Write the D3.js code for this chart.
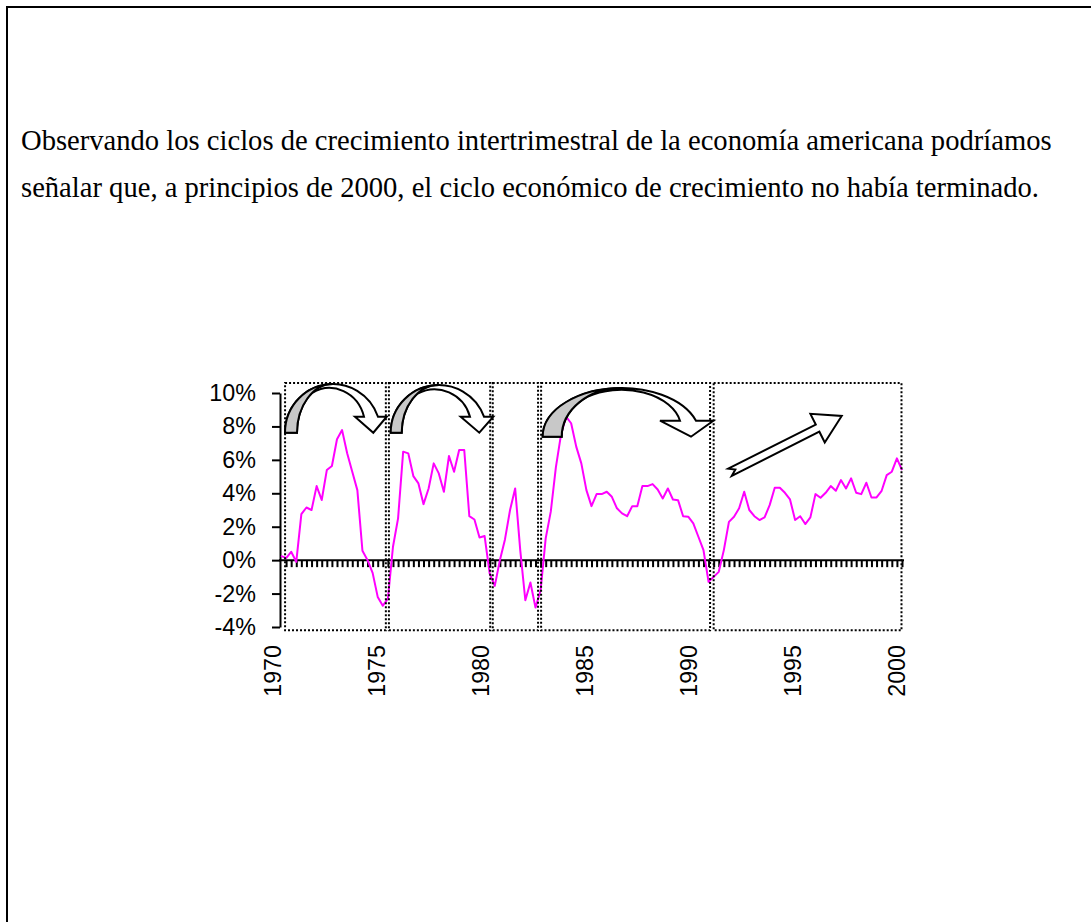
<!DOCTYPE html>
<html>
<head>
<meta charset="utf-8">
<script src="https://cdn.jsdelivr.net/npm/d3@7"></script>
<style>
  html, body { margin: 0; padding: 0; background: #fff; }
  svg { display: block; }
</style>
</head>
<body>
<div id="chart"></div>
<script>
// US GDP growth, quarter on same quarter of previous year (%), 1970Q1 - 2000Q3
const startYear = 1970;
const growth = [
  0.26, 0.12, 0.5, -0.1,   2.75, 3.15, 3.0, 4.43,   3.6, 5.39, 5.63, 7.23,
  7.78, 6.39, 5.29, 4.19,  0.56, 0.0, -0.76, -2.2,  -2.73, -2.3, 0.8, 2.5,
  6.49, 6.39, 5.03, 4.59,  3.35, 4.29, 5.79, 5.19,  4.09, 6.23, 5.29, 6.59,
  6.59, 2.63, 2.43, 1.36,  1.44, -0.8, -1.54, 0.0,  1.24, 3.0, 4.29, 0.6,
  -2.4, -1.34, -2.84, -1.8, 1.3, 2.9, 5.55, 7.5,    8.58, 8.19, 6.79, 5.79,
  4.19, 3.23, 3.95, 3.95,  4.09, 3.79, 3.1, 2.8,    2.63, 3.23, 3.23, 4.43,
  4.43, 4.55, 4.23, 3.69,  4.29, 3.63, 3.59, 2.63,  2.6, 2.2, 1.4, 0.6,
  -1.3, -1.0, -0.7, 0.6,   2.29, 2.6, 3.1, 4.09,    3.0, 2.63, 2.4, 2.56,
  3.29, 4.33, 4.33, 4.03,  3.63, 2.4, 2.63, 2.16,   2.56, 3.95, 3.73, 4.03,
  4.43, 4.15, 4.79, 4.29,  4.89, 4.03, 3.95, 4.63,  3.75, 3.75, 4.15, 5.09,
  5.29, 6.09, 5.39
];
const quarters = growth.map((_, i) => `${startYear + Math.floor(i / 4)}Q${i % 4 + 1}`);
const yearLabels = ["1970", "1975", "1980", "1985", "1990", "1995", "2000"];
const yTicks = [-4, -2, 0, 2, 4, 6, 8, 10];
const paragraph = [
  "Observando los ciclos de crecimiento intertrimestral de la economía americana podríamos",
  "señalar que, a principios de 2000, el ciclo económico de crecimiento no había terminado."
];
// dotted frames around each cycle, in quarter index units
const cycles = [[0.8, 20.6], [21.2, 41.1], [41.6, 50.5], [51.1, 84.3], [85, 121.9]];

const width = 1091, height = 922;
const sans = "'Liberation Sans', Arial, sans-serif";
const serif = "'Liberation Serif', 'Times New Roman', serif";

const svg = d3.select("#chart").append("svg")
    .attr("width", width)
    .attr("height", height)
    .attr("viewBox", `0 0 ${width} ${height}`);

// page frame
svg.append("rect")
    .attr("x", 7).attr("y", 7)
    .attr("width", width + 20).attr("height", height + 20)
    .attr("fill", "none").attr("stroke", "#000").attr("stroke-width", 2);

// paragraph
svg.append("g").selectAll("text").data(paragraph).join("text")
    .attr("x", 21)
    .attr("y", (d, i) => 150 + i * 47)
    .attr("font-family", serif)
    .attr("font-size", "28.6px")
    .attr("fill", "#000")
    .text(d => d);

// --- scales ---
const x = d3.scaleLinear().domain([0, growth.length - 1]).range([281, 902]);
const y = d3.scaleLinear().domain([-4, 10]).range([627, 393]);
const yearX = d3.scaleLinear().domain([1970, 2000]).range([x(0) - 9, x(120) + 5]);

// y axis
const yAxisG = svg.append("g")
    .attr("transform", `translate(${x(0) - 1},0)`)
    .call(d3.axisLeft(y).tickValues(yTicks).tickSize(8).tickSizeOuter(0)
        .tickPadding(16).tickFormat(d => d + "%"));
yAxisG.select(".domain").attr("stroke-width", 2);
yAxisG.selectAll(".tick line").attr("stroke-width", 2);
yAxisG.selectAll("text")
    .attr("font-family", sans).attr("font-size", "23.3px").attr("fill", "#000");

// x axis: line at 0% with quarterly ticks
const xAxisG = svg.append("g")
    .attr("transform", `translate(0,${y(0)})`)
    .call(d3.axisBottom(x).tickValues(d3.range(1, growth.length)).tickSize(7)
        .tickSizeOuter(0).tickFormat(""));
xAxisG.select(".domain")
    .attr("d", `M${x(0) - 2},0H${x(growth.length - 1) + 2}`)
    .attr("stroke-width", 2);
xAxisG.selectAll(".tick line").attr("stroke-width", 2);

// year labels, rotated
const labelG = svg.append("g")
    .attr("transform", `translate(0,${y(0)})`)
    .call(d3.axisBottom(yearX).tickValues(yearLabels.map(Number)).tickSize(0)
        .tickFormat(d => String(d)));
labelG.select(".domain").remove();
labelG.selectAll("text")
    .attr("transform", "rotate(-90)")
    .attr("x", -(645 - y(0)))
    .attr("y", 0)
    .attr("dy", "0.35em")
    .attr("text-anchor", "end")
    .attr("font-family", sans).attr("font-size", "23.3px").attr("fill", "#000");

// growth line
const line = d3.line()
    .x((d, i) => x(i))
    .y(d => y(d));
svg.append("path")
    .datum(growth)
    .attr("d", line)
    .attr("fill", "none")
    .attr("stroke", "#ff00ff")
    .attr("stroke-width", 2)
    .attr("stroke-linejoin", "round");

// dotted cycle frames
svg.append("g").selectAll("rect").data(cycles).join("rect")
    .attr("x", d => x(d[0]))
    .attr("y", y(10.6))
    .attr("width", d => x(d[1]) - x(d[0]))
    .attr("height", y(-4.2) - y(10.6))
    .attr("fill", "none")
    .attr("stroke", "#000")
    .attr("stroke-width", 2)
    .attr("stroke-dasharray", "2,2");

// --- curved arrows over the completed cycles ---
const curved = [
  { x0: 285, footW: 12, yB: 432.7, yTop: 384, yH: 416.7, headL: 355, headR: 386.7, tipX: 373.3, bandL: 364, bandR: 378 },
  { x0: 390.7, footW: 11, yB: 432.7, yTop: 385, yH: 416.7, headL: 460.7, headR: 493.3, tipX: 479.3, bandL: 470, bandR: 484 },
  { x0: 542.7, footW: 19, yB: 436.7, yTop: 388, yH: 420.7, headL: 660, headR: 713.3, tipX: 691, bandL: 680, bandR: 696 }
];

const arrowsG = svg.append("g")
    .attr("stroke", "#000").attr("stroke-width", 2).attr("stroke-linejoin", "miter");

curved.forEach(a => {
  const ry1 = a.yB - a.yTop;
  const u = a.bandR - a.x0;
  const k = Math.pow((a.yB - a.yH) / ry1, 2);
  const rx1 = u * (1 - Math.sqrt(1 - k)) / k;
  const cx = a.x0 + rx1;
  const rx3 = rx1 - a.footW;
  const th = 55 * Math.PI / 180;
  const px = cx - rx3 * Math.cos(th), py = a.yB - ry1 * Math.sin(th);
  const rx2 = rx3, ry2 = ry1 * 0.8;

  const body = `M${a.x0},${a.yB} A${rx1},${ry1} 0 0 1 ${a.bandR},${a.yH}` +
    ` L${a.headR},${a.yH} L${a.tipX},${a.yB} L${a.headL},${a.yH} L${a.bandL},${a.yH}` +
    ` A${rx2},${ry2} 0 0 0 ${px},${py}` +
    ` A${rx3},${ry1} 0 0 0 ${a.x0 + a.footW},${a.yB} Z`;
  arrowsG.append("path").attr("d", body).attr("fill", "#fff");

  const crescent = `M${a.x0},${a.yB} A${rx1},${ry1} 0 0 1 ${cx},${a.yB - ry1}` +
    ` A${rx3},${ry1} 0 0 0 ${a.x0 + a.footW},${a.yB} Z`;
  arrowsG.append("path").attr("d", crescent).attr("fill", "#c8c8c8");
});

// straight arrow over the running cycle
const tail = [730, 472.2], tip = [841.7, 416];
const L = Math.hypot(tip[0] - tail[0], tip[1] - tail[1]);
const ang = Math.atan2(tip[1] - tail[1], tip[0] - tail[0]) * 180 / Math.PI;
const w = 4, hl = 27, hw = 16, nd = 6;
const pts = [[0, -w], [L - hl, -w], [L - hl, -hw], [L, 0], [L - hl, hw], [L - hl, w], [0, w], [nd, 0]];
arrowsG.append("path")
    .attr("transform", `translate(${tail[0]},${tail[1]}) rotate(${ang})`)
    .attr("d", "M" + pts.map(p => p.join(",")).join("L") + "Z")
    .attr("fill", "#fff");
</script>
</body>
</html>
